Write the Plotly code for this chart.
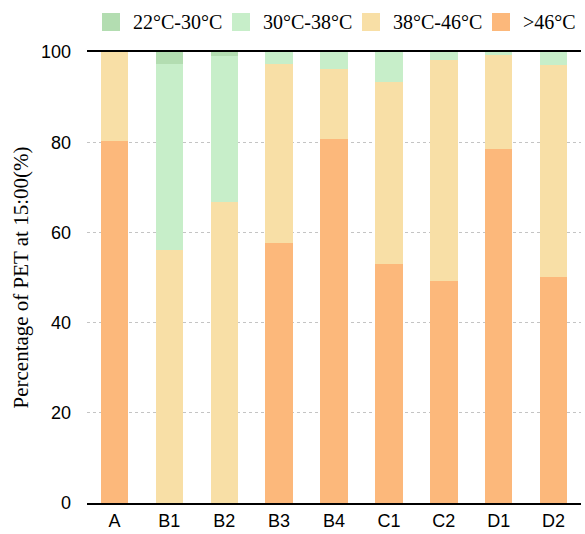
import plotly.graph_objects as go

# Share of PET classes (%) at 15:00 for each measurement site
sites = ["A", "B1", "B2", "B3", "B4", "C1", "C2", "D1", "D2"]
pet_22_30 = [0, 2.7, 0.9, 0, 0, 0, 0, 0, 0]
pet_30_38 = [0, 41.1, 32.3, 2.7, 3.7, 6.6, 1.7, 0.6, 2.8]
pet_38_46 = [19.7, 56.2, 66.8, 39.7, 15.7, 40.4, 49.0, 21.0, 47.0]
pet_over_46 = [80.3, 0, 0, 57.6, 80.6, 53.0, 49.3, 78.4, 50.2]

class_names = ["22°C-30°C", "30°C-38°C", "38°C-46°C", ">46°C"]
class_colors = ["#b3ddb1", "#c7eec9", "#f8dfa6", "#fcb87b"]

W, H = 585, 534
M_L, M_R, M_T, M_B = 87, 4, 52, 31

SERIF = "Liberation Serif, Times New Roman, serif"
SANS = "Liberation Sans, Arial, sans-serif"

fig = go.Figure()

# stacked from the hottest class at the bottom upwards
stack = [
    (pet_over_46, class_names[3], class_colors[3]),
    (pet_38_46, class_names[2], class_colors[2]),
    (pet_30_38, class_names[1], class_colors[1]),
    (pet_22_30, class_names[0], class_colors[0]),
]
for values, name, color in stack:
    fig.add_trace(go.Bar(
        x=sites, y=values, name=name,
        marker=dict(color=color, line=dict(width=0)),
        showlegend=False,
    ))

# legend row above the plot: coloured squares with serif labels
plot_w = W - M_L - M_R
plot_h = H - M_T - M_B


def px_x(px):
    return (px - M_L) / plot_w


def px_y(py):
    return (H - M_B - py) / plot_h


legend_x0 = 102
legend_step = 130
sw = 18
sw_top, sw_bot = 13, 31
for i, (name, color) in enumerate(zip(class_names, class_colors)):
    x0 = legend_x0 + legend_step * i
    fig.add_shape(
        type="rect", xref="paper", yref="paper",
        x0=px_x(x0), x1=px_x(x0 + sw), y0=px_y(sw_bot), y1=px_y(sw_top),
        fillcolor=color, line=dict(width=0), layer="above",
    )
    fig.add_annotation(
        xref="paper", yref="paper", x=px_x(x0 + sw + 11), y=px_y(22.5),
        xanchor="left", yanchor="middle", showarrow=False,
        text=name, font=dict(family=SERIF, size=20, color="black"),
    )

fig.update_layout(
    template="none",
    width=W, height=H, autosize=False,
    margin=dict(l=M_L, r=M_R, t=M_T, b=M_B, pad=0),
    barmode="stack", bargap=0.5,
    plot_bgcolor="white", paper_bgcolor="white",
    showlegend=False,
)

fig.update_xaxes(
    type="category", automargin=False,
    showline=True, mirror=True, linecolor="black", linewidth=2,
    showgrid=False, zeroline=False, ticks="",
    tickfont=dict(family=SANS, size=18, color="black"),
    ticklabelstandoff=0,
)

fig.update_yaxes(
    range=[0, 100], automargin=False,
    tickvals=[0, 20, 40, 60, 80, 100],
    showline=False, zeroline=False, ticks="",
    showgrid=True, gridcolor="#c4c4c4", gridwidth=1, griddash="3px,3px",
    tickfont=dict(family=SANS, size=18, color="black"),
    ticklabelstandoff=15,
    title=dict(text="Percentage of PET at 15:00(%)",
               font=dict(family=SERIF, size=21, color="black"), standoff=6),
)

fig.write_html("out.html")
